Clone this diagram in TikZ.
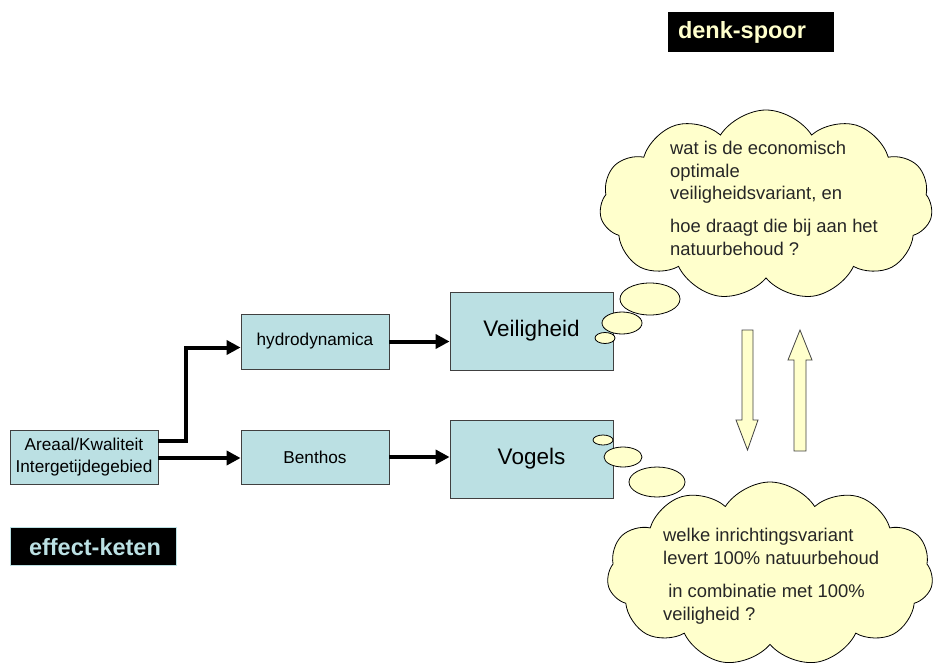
\documentclass[tikz,border=0pt]{standalone}
\usepackage{fontspec}
\setmainfont{Liberation Sans}
\usetikzlibrary{shapes.symbols,arrows.meta}
\definecolor{boxblue}{HTML}{BBE0E3}
\definecolor{cloudy}{HTML}{FFFFCC}
\definecolor{edgegray}{HTML}{404040}
\tikzset{
  bluebox/.style={draw=edgegray, fill=boxblue, line width=0.8pt, inner sep=0pt, align=center, font=\fontsize{17.2}{22}\selectfont},
  bigbox/.style={bluebox, minimum width=163pt, minimum height=78pt, font=\fontsize{22.5}{26}\selectfont},
  smallbox/.style={bluebox, minimum width=148pt, minimum height=54pt},
  thickarrow/.style={line width=4pt, -{Triangle[length=14pt,width=14pt]}},
  puff/.style={draw=black, fill=cloudy, line width=0.8pt},
  thoughtcloud/.style={cloud, cloud puffs=11, cloud puff arc=115, cloud ignores aspect, draw=black, fill=cloudy, line width=0.8pt, inner sep=0pt},
  cloudtext/.style={anchor=north west, align=left, inner sep=0pt, font=\fontsize{18.4}{22.5}\selectfont, text=black!85},
  blockarrow/.style={draw=edgegray, fill=cloudy, line width=0.8pt},
  labelbox/.style={fill=black, inner sep=0pt},
  labeltext/.style={anchor=west, inner sep=0pt, font=\bfseries\fontsize{23.5}{26}\selectfont}
}
\begin{document}
\begin{tikzpicture}[x=1pt,y=-1pt]
\useasboundingbox (0,0) rectangle (933,666);
% title labels
\node[labelbox, draw=black, minimum width=165pt, minimum height=39pt] (denk) at (750.5,31.5) {};
\node[labeltext, text=cloudy] (denktext) at ([xshift=10pt,yshift=-1pt]denk.west) {denk-spoor};
\node[labelbox, draw=boxblue, minimum width=166pt, minimum height=38pt] (effect) at (93,546) {};
\node[labeltext, text=boxblue] (effecttext) at ([xshift=19pt,yshift=-1.5pt]effect.west) {effect-keten};
% boxes
\node[smallbox] (areaal) at (84,457) {Areaal/Kwaliteit\\Intergetijdegebied};
\node[smallbox, minimum height=55pt] (hydro) at (315,341.5) {hydrodynamica};
\node[smallbox] (benthos) at (315,457) {Benthos};
\node[bigbox] (veil) at (531.5,331) {Veiligheid};
\node[bigbox] (vogels) at (531.5,459) {Vogels};
% arrows
\draw[thickarrow] ([yshift=16pt]areaal.east) -- ++(28,0) |- ([yshift=-6pt]hydro.west);
\draw[thickarrow] ([yshift=-1pt]areaal.east) -- ([yshift=-1pt]benthos.west);
\draw[thickarrow] (hydro.east) -- (hydro.east -| veil.west);
\draw[thickarrow] (benthos.east) -- (benthos.east -| vogels.west);
% clouds
\node[thoughtcloud, minimum width=333pt, minimum height=190pt] (topcloud) at (766,205) {};
\node[thoughtcloud, minimum width=326pt, minimum height=184pt] (botcloud) at (770,574) {};
\draw[puff] (650,299) ellipse (30 and 16);
\draw[puff] (622,323) ellipse (20 and 11);
\draw[puff] (605,338) ellipse (10 and 5.5);
\draw[puff] (657,482) ellipse (28 and 15);
\draw[puff] (623,457) ellipse (19 and 10);
\draw[puff] (603,440) ellipse (10 and 5);
\node[cloudtext] (toptext1) at (670,141) {wat is de economisch\\optimale\\veiligheidsvariant, en};
\node[cloudtext] (toptext2) at (670,219) {hoe draagt die bij aan het\\natuurbehoud ?};
\node[cloudtext] (bottext1) at (663,528) {welke inrichtingsvariant\\levert 100\% natuurbehoud};
\node[cloudtext] (bottext2) at (663,584) {\ in combinatie met 100\%\\veiligheid ?};
% block arrows
\draw[blockarrow] (742,330) -- (753,330) -- (753,420) -- (758,420) -- (747.5,450) -- (736,420) -- (742,420) -- cycle;
\draw[blockarrow] (794,451) -- (806,451) -- (806,360) -- (812,360) -- (800,330) -- (788,360) -- (794,360) -- cycle;
\end{tikzpicture}
\end{document}
